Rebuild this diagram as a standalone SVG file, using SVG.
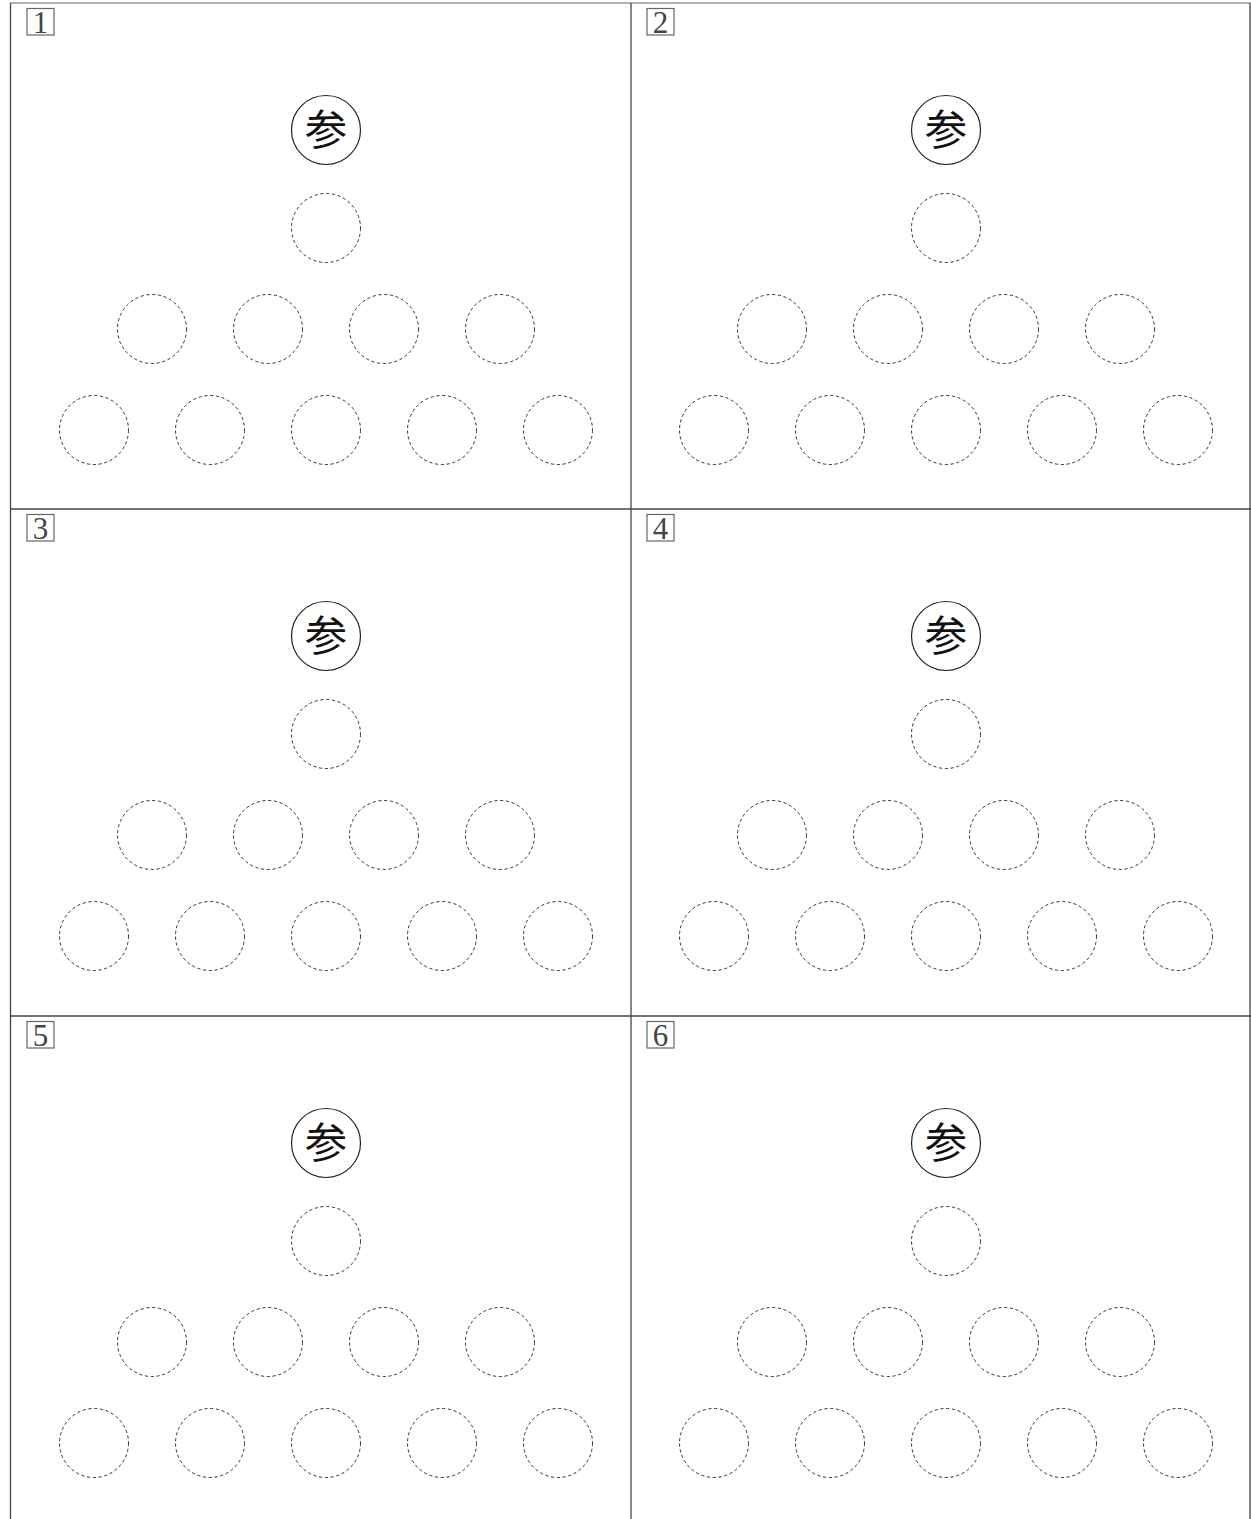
<svg xmlns="http://www.w3.org/2000/svg" width="1251" height="1519" viewBox="0 0 1251 1519">
<style>
.frame{stroke:#444;stroke-width:1.3;fill:none}
.top{stroke:#999;stroke-width:1.5;fill:none}
.nb{fill:#fff;stroke:#666;stroke-width:1.2}
.num{font-family:"Liberation Serif","DejaVu Serif",serif;font-size:31px;fill:#444;text-anchor:middle}
.solid{fill:#fff;stroke:#222;stroke-width:1.2}
.dash{fill:none;stroke:#333;stroke-width:1;stroke-dasharray:3.2 2.6}
.kanji{font-family:"Noto Sans CJK JP","Noto Sans CJK SC",sans-serif;font-size:42px;fill:#111;text-anchor:middle}
</style>
<rect width="1251" height="1519" fill="#fff"/>
<g id="frame">
<line class="top" x1="10" y1="3" x2="1251" y2="3"/>
<line class="frame" x1="10.5" y1="3" x2="10.5" y2="1519"/>
<line class="frame" x1="631" y1="3" x2="631" y2="1519"/>
<line class="frame" x1="1250" y1="3" x2="1250" y2="1519"/>
<line class="frame" x1="10" y1="509" x2="1251" y2="509"/>
<line class="frame" x1="10" y1="1016" x2="1251" y2="1016"/>
</g>
<g id="connectors"/>
<g id="panel1" transform="translate(0,0)">
<g id="p1-label"><rect class="nb" x="27" y="8.5" width="27" height="26.5"/><text class="num" x="40.5" y="32.5">1</text></g>
<g id="p1-top"><circle class="solid" cx="326" cy="130" r="34.5"/><text class="kanji" x="326" y="145">参</text></g>
<g id="p1-r1"><circle class="dash" cx="326" cy="228" r="34.5"/></g>
<g id="p1-r2"><circle class="dash" cx="152" cy="329" r="34.5"/><circle class="dash" cx="268" cy="329" r="34.5"/><circle class="dash" cx="384" cy="329" r="34.5"/><circle class="dash" cx="500" cy="329" r="34.5"/></g>
<g id="p1-r3"><circle class="dash" cx="94" cy="430" r="34.5"/><circle class="dash" cx="210" cy="430" r="34.5"/><circle class="dash" cx="326" cy="430" r="34.5"/><circle class="dash" cx="442" cy="430" r="34.5"/><circle class="dash" cx="558" cy="430" r="34.5"/></g>
</g>
<g id="panel2" transform="translate(620,0)">
<g id="p2-label"><rect class="nb" x="27" y="8.5" width="27" height="26.5"/><text class="num" x="40.5" y="32.5">2</text></g>
<g id="p2-top"><circle class="solid" cx="326" cy="130" r="34.5"/><text class="kanji" x="326" y="145">参</text></g>
<g id="p2-r1"><circle class="dash" cx="326" cy="228" r="34.5"/></g>
<g id="p2-r2"><circle class="dash" cx="152" cy="329" r="34.5"/><circle class="dash" cx="268" cy="329" r="34.5"/><circle class="dash" cx="384" cy="329" r="34.5"/><circle class="dash" cx="500" cy="329" r="34.5"/></g>
<g id="p2-r3"><circle class="dash" cx="94" cy="430" r="34.5"/><circle class="dash" cx="210" cy="430" r="34.5"/><circle class="dash" cx="326" cy="430" r="34.5"/><circle class="dash" cx="442" cy="430" r="34.5"/><circle class="dash" cx="558" cy="430" r="34.5"/></g>
</g>
<g id="panel3" transform="translate(0,506)">
<g id="p3-label"><rect class="nb" x="27" y="8.5" width="27" height="26.5"/><text class="num" x="40.5" y="32.5">3</text></g>
<g id="p3-top"><circle class="solid" cx="326" cy="130" r="34.5"/><text class="kanji" x="326" y="145">参</text></g>
<g id="p3-r1"><circle class="dash" cx="326" cy="228" r="34.5"/></g>
<g id="p3-r2"><circle class="dash" cx="152" cy="329" r="34.5"/><circle class="dash" cx="268" cy="329" r="34.5"/><circle class="dash" cx="384" cy="329" r="34.5"/><circle class="dash" cx="500" cy="329" r="34.5"/></g>
<g id="p3-r3"><circle class="dash" cx="94" cy="430" r="34.5"/><circle class="dash" cx="210" cy="430" r="34.5"/><circle class="dash" cx="326" cy="430" r="34.5"/><circle class="dash" cx="442" cy="430" r="34.5"/><circle class="dash" cx="558" cy="430" r="34.5"/></g>
</g>
<g id="panel4" transform="translate(620,506)">
<g id="p4-label"><rect class="nb" x="27" y="8.5" width="27" height="26.5"/><text class="num" x="40.5" y="32.5">4</text></g>
<g id="p4-top"><circle class="solid" cx="326" cy="130" r="34.5"/><text class="kanji" x="326" y="145">参</text></g>
<g id="p4-r1"><circle class="dash" cx="326" cy="228" r="34.5"/></g>
<g id="p4-r2"><circle class="dash" cx="152" cy="329" r="34.5"/><circle class="dash" cx="268" cy="329" r="34.5"/><circle class="dash" cx="384" cy="329" r="34.5"/><circle class="dash" cx="500" cy="329" r="34.5"/></g>
<g id="p4-r3"><circle class="dash" cx="94" cy="430" r="34.5"/><circle class="dash" cx="210" cy="430" r="34.5"/><circle class="dash" cx="326" cy="430" r="34.5"/><circle class="dash" cx="442" cy="430" r="34.5"/><circle class="dash" cx="558" cy="430" r="34.5"/></g>
</g>
<g id="panel5" transform="translate(0,1013)">
<g id="p5-label"><rect class="nb" x="27" y="8.5" width="27" height="26.5"/><text class="num" x="40.5" y="32.5">5</text></g>
<g id="p5-top"><circle class="solid" cx="326" cy="130" r="34.5"/><text class="kanji" x="326" y="145">参</text></g>
<g id="p5-r1"><circle class="dash" cx="326" cy="228" r="34.5"/></g>
<g id="p5-r2"><circle class="dash" cx="152" cy="329" r="34.5"/><circle class="dash" cx="268" cy="329" r="34.5"/><circle class="dash" cx="384" cy="329" r="34.5"/><circle class="dash" cx="500" cy="329" r="34.5"/></g>
<g id="p5-r3"><circle class="dash" cx="94" cy="430" r="34.5"/><circle class="dash" cx="210" cy="430" r="34.5"/><circle class="dash" cx="326" cy="430" r="34.5"/><circle class="dash" cx="442" cy="430" r="34.5"/><circle class="dash" cx="558" cy="430" r="34.5"/></g>
</g>
<g id="panel6" transform="translate(620,1013)">
<g id="p6-label"><rect class="nb" x="27" y="8.5" width="27" height="26.5"/><text class="num" x="40.5" y="32.5">6</text></g>
<g id="p6-top"><circle class="solid" cx="326" cy="130" r="34.5"/><text class="kanji" x="326" y="145">参</text></g>
<g id="p6-r1"><circle class="dash" cx="326" cy="228" r="34.5"/></g>
<g id="p6-r2"><circle class="dash" cx="152" cy="329" r="34.5"/><circle class="dash" cx="268" cy="329" r="34.5"/><circle class="dash" cx="384" cy="329" r="34.5"/><circle class="dash" cx="500" cy="329" r="34.5"/></g>
<g id="p6-r3"><circle class="dash" cx="94" cy="430" r="34.5"/><circle class="dash" cx="210" cy="430" r="34.5"/><circle class="dash" cx="326" cy="430" r="34.5"/><circle class="dash" cx="442" cy="430" r="34.5"/><circle class="dash" cx="558" cy="430" r="34.5"/></g>
</g>
</svg>
